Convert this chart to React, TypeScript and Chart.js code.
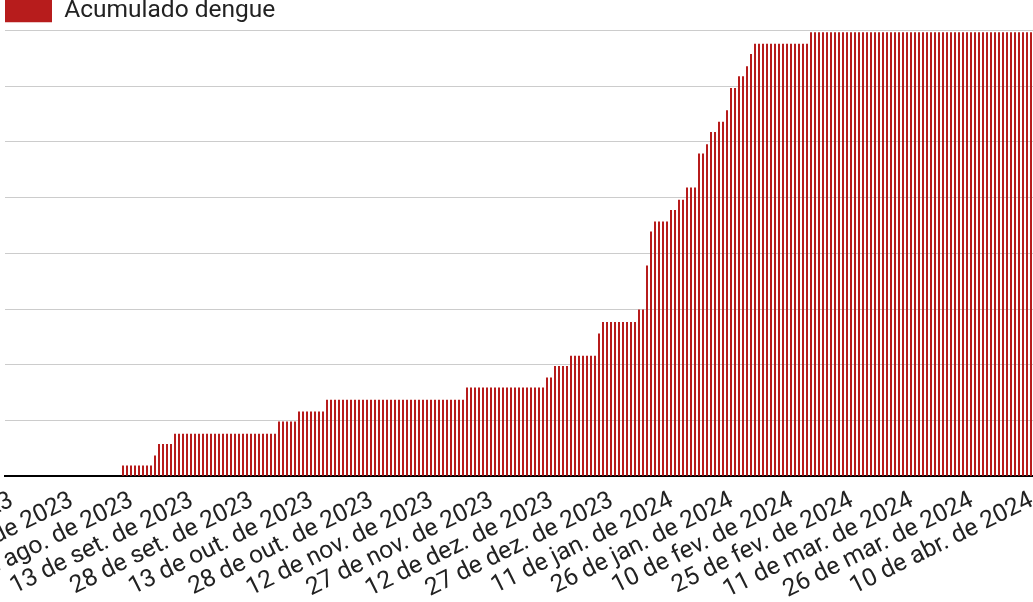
import React, { useEffect, useRef } from "react";
import { Chart, registerables } from "chart.js";

Chart.register(...registerables);

// First day shown on the axis: 30 de jul. de 2023, one category per day
const startDate = [2023, 6, 30];
const dayCount = 257;
const monthAbbr = ["jan.", "fev.", "mar.", "abr.", "mai.", "jun.", "jul.", "ago.", "set.", "out.", "nov.", "dez."];
const tickEvery = 15;

const seriesLabel = "Acumulado dengue";

// Daily cumulative values (day 0 = 30/07/2023)
const acumuladoDengue = [
  0, 0, 0, 0, 0, 0, 0, 0, 0, 0, 0, 0, 0, 0, 0, 0, 0, 0, 0, 0, 0, 0, 0, 0, 0, 0, 0, 0, 0,
  190, 190, 190, 190, 190, 190, 190, 190,
  370,
  580, 580, 580, 580,
  760, 760, 760, 760, 760, 760, 760, 760, 760, 760, 760, 760, 760, 760, 760, 760, 760, 760, 760, 760, 760, 760, 760, 760, 760, 760,
  980, 980, 980, 980, 980,
  1160, 1160, 1160, 1160, 1160, 1160, 1160,
  1370, 1370, 1370, 1370, 1370, 1370, 1370, 1370, 1370, 1370, 1370, 1370, 1370, 1370, 1370, 1370, 1370, 1370, 1370, 1370, 1370, 1370, 1370, 1370, 1370, 1370, 1370, 1370, 1370, 1370, 1370, 1370, 1370, 1370, 1370,
  1590, 1590, 1590, 1590, 1590, 1590, 1590, 1590, 1590, 1590, 1590, 1590, 1590, 1590, 1590, 1590, 1590, 1590, 1590, 1590,
  1770, 1770,
  1980, 1980, 1980, 1980,
  2160, 2160, 2160, 2160, 2160, 2160, 2160,
  2560,
  2770, 2770, 2770, 2770, 2770, 2770, 2770, 2770, 2770,
  2990, 2990,
  3780,
  4390,
  4570, 4570, 4570, 4570,
  4780, 4780,
  4960, 4960,
  5180, 5180, 5180,
  5790, 5790,
  5960,
  6180, 6180,
  6360, 6360,
  6570,
  6970, 6970,
  7180, 7180,
  7360,
  7580,
  7760, 7760, 7760, 7760, 7760, 7760, 7760, 7760, 7760, 7760, 7760, 7760, 7760, 7760,
  7970, 7970, 7970, 7970, 7970, 7970, 7970, 7970, 7970, 7970, 7970, 7970, 7970, 7970, 7970, 7970, 7970, 7970, 7970, 7970,
  7970, 7970, 7970, 7970, 7970, 7970, 7970, 7970, 7970, 7970, 7970, 7970, 7970, 7970, 7970, 7970, 7970, 7970, 7970, 7970,
  7970, 7970, 7970, 7970, 7970, 7970, 7970, 7970, 7970, 7970, 7970, 7970, 7970, 7970, 7970, 7970,
];

const yMax = 8000;
const yStep = 1000;

function buildDayLabels(): string[] {
  const out: string[] = [];
  for (let i = 0; i < dayCount; i++) {
    const d = new Date(startDate[0], startDate[1], startDate[2] + i);
    out.push(`${d.getDate()} de ${monthAbbr[d.getMonth()]} de ${d.getFullYear()}`);
  }
  return out;
}

const FONT = "Roboto";

// Trims the fixed gap Chart.js leaves under the legend
const legendGap = {
  id: "legendGap",
  beforeLayout(chart: any) {
    const lg = chart.legend;
    if (lg && !lg.__gapPatched) {
      const orig = lg.fit;
      lg.fit = function () {
        orig.call(this);
        this.height = Math.max(this.height - 2.5, 0);
      };
      lg.__gapPatched = true;
    }
  },
};

export default function App() {
  const ref = useRef<HTMLCanvasElement | null>(null);

  useEffect(() => {
    if (!ref.current) return;
    const labels = buildDayLabels();
    const chart = new Chart(ref.current, {
      type: "bar",
      data: {
        labels,
        datasets: [
          {
            label: seriesLabel,
            data: acumuladoDengue,
            backgroundColor: "#b71c1c",
            borderWidth: 0,
            categoryPercentage: 1,
            barPercentage: 0.5,
          },
        ],
      },
      options: {
        responsive: true,
        maintainAspectRatio: false,
        animation: false,
        layout: { padding: { left: 5, right: 0, top: -1.5, bottom: 0 } },
        plugins: {
          legend: {
            display: true,
            position: "top",
            align: "start",
            labels: {
              boxWidth: 47,
              boxHeight: 23,
              padding: 0,
              color: "#222",
              font: { family: FONT, size: 24.5 },
            },
          },
          tooltip: { enabled: false },
        },
        scales: {
          x: {
            grid: { display: false, drawTicks: false },
            border: { display: true, color: "#000", width: 2 },
            ticks: {
              autoSkip: false,
              minRotation: 26.3,
              maxRotation: 26.3,
              padding: 10,
              labelOffset: 5,
              color: "#222",
              font: { family: FONT, size: 24.5 },
              callback: (_v: any, i: number) => (i % tickEvery === 0 ? labels[i] : ""),
            },
            afterFit: (scale: any) => {
              scale.paddingLeft = 0;
              scale.paddingRight = 0;
            },
          },
          y: {
            min: 0,
            max: yMax,
            ticks: { display: false, stepSize: yStep },
            grid: { color: "#cccccc", lineWidth: 1, drawTicks: false },
            border: { display: false },
          },
        },
      },
      plugins: [legendGap],
    });
    return () => chart.destroy();
  }, []);

  return (
    <div style={{ position: "fixed", left: 0, top: 0, width: 1033, height: 602, overflow: "hidden", background: "#fff" }}>
      <div style={{ position: "relative", width: 1033, height: 615 }}>
        <canvas ref={ref} />
      </div>
    </div>
  );
}
